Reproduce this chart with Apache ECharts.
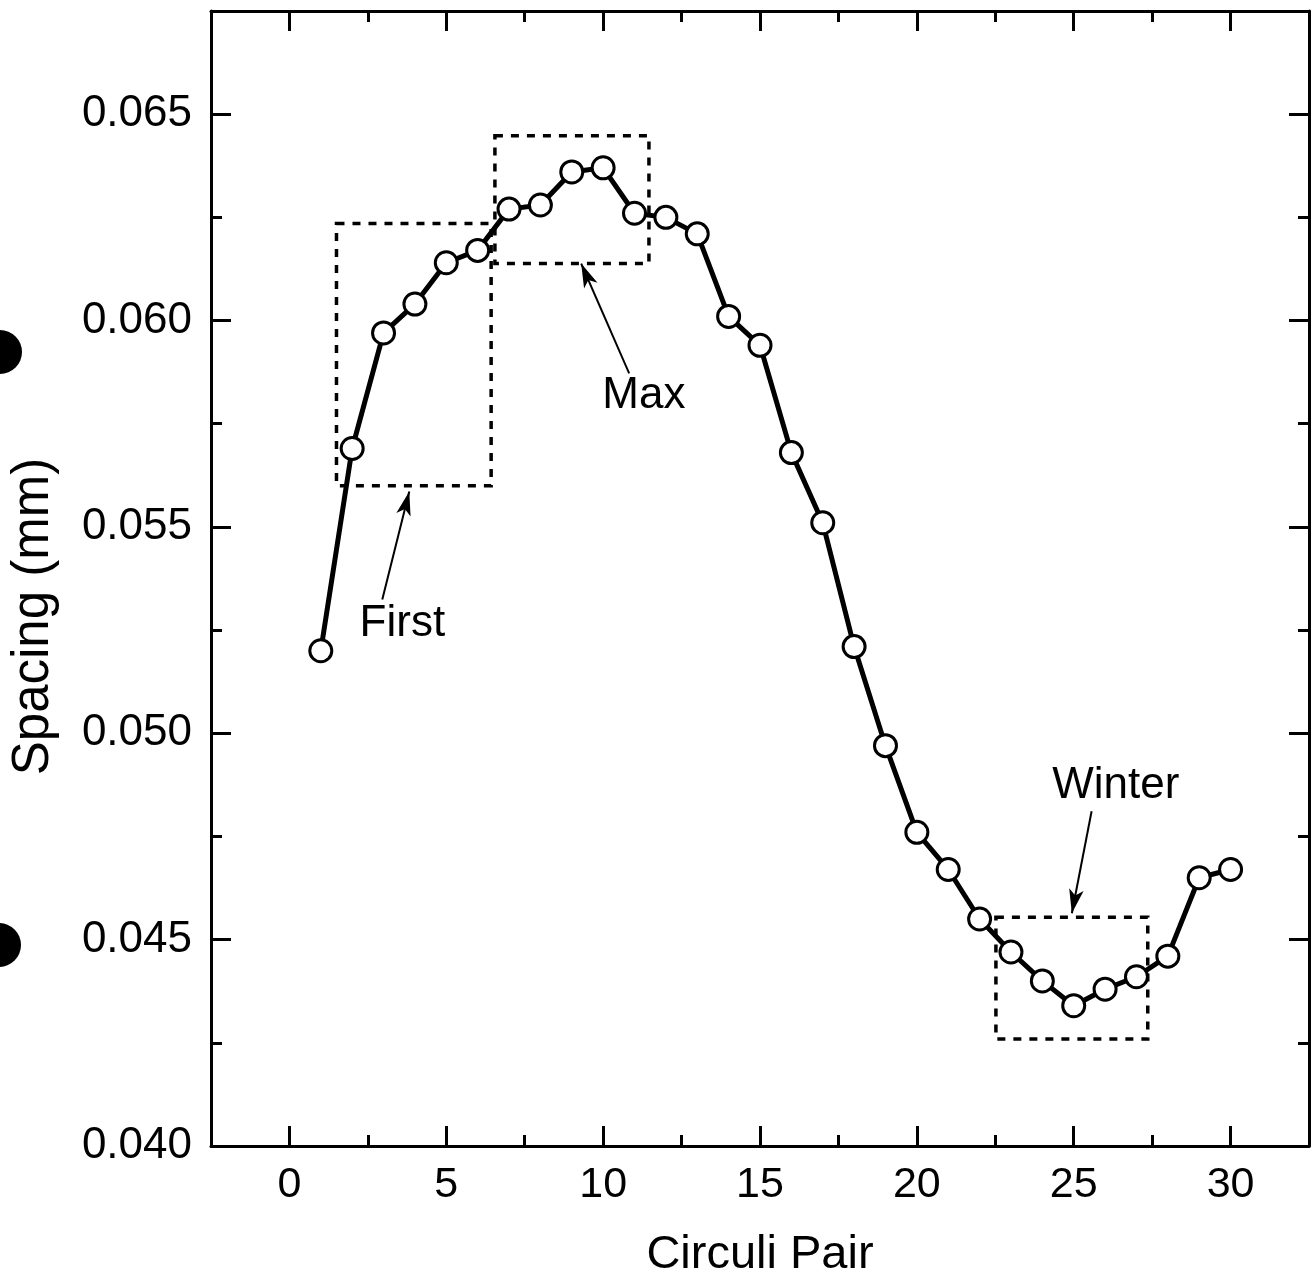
<!DOCTYPE html>
<html>
<head>
<meta charset="utf-8">
<script src="https://cdn.jsdelivr.net/npm/echarts@6/dist/echarts.min.js"></script>
<style>html,body{margin:0;padding:0;background:#fff;}#chart{width:1314px;height:1285px;}</style>
</head>
<body>
<div id="chart"></div>
<script>
// ---- data ----
const circuliPair = [1,2,3,4,5,6,7,8,9,10,11,12,13,14,15,16,17,18,19,20,21,22,23,24,25,26,27,28,29,30];
const spacing = [0.0520,0.0569,0.0597,0.0604,0.0614,0.0617,0.0627,0.0628,0.0636,0.0637,
                 0.0626,0.0625,0.0621,0.0601,0.0594,0.0568,0.0551,0.0521,0.0497,0.0476,
                 0.0467,0.0455,0.0447,0.0440,0.0434,0.0438,0.0441,0.0446,0.0465,0.0467];
const xMajorTicks = [0,5,10,15,20,25,30];
const xMinorTicks = [2.5,7.5,12.5,17.5,22.5,27.5];
const yMajorTicks = [0.040,0.045,0.050,0.055,0.060,0.065];
const yMinorTicks = [0.0425,0.0475,0.0525,0.0575,0.0625];
// dashed boxes: [xLeft, yTop, xRight, yBottom]
const boxFirst  = [1.50, 0.06235, 6.43, 0.05600];
const boxMax    = [6.55, 0.06448, 11.46, 0.06138];
const boxWinter = [22.52, 0.04554, 27.36, 0.04259];
// arrows: [xFrom, yFrom, xTo, yTo]
const arrowFirst  = [2.96, 0.05324, 3.82, 0.05586];
const arrowMax    = [10.83, 0.05872, 9.30, 0.06138];
const arrowWinter = [25.57, 0.04811, 24.94, 0.04564];
// annotation labels
const noteNames = ['First','Max','Winter'];
const noteX = [3.6, 11.3, 26.34];
const noteY = [0.05266, 0.05818, 0.04872];

const FONT = '"Liberation Sans", Arial, Helvetica, sans-serif';
const black = '#000';

function boxPair(b){ return [{coord:[b[0], b[1]]},{coord:[b[2], b[3]]}]; }
function arrowPair(a){ return [{coord:[a[0], a[1]]},{coord:[a[2], a[3]]}]; }

const xRange = {min:-2.5, max:32.5};
const yRange = {min:0.040, max:0.0675};

function xAxisDef(pos, ticks, len, withLine, withLabels){
  return Object.assign({
    type:'value', position:pos, gridIndex:0,
    axisLine:{show:withLine, onZero:false, lineStyle:{color:black, width:3}},
    axisTick:{show:true, inside:true, length:len, customValues:ticks, lineStyle:{color:black, width:3}},
    axisLabel:{show:withLabels, customValues:ticks, margin:18, fontSize:43, fontFamily:FONT, color:black,
               formatter:function(v){return String(v);}},
    splitLine:{show:false}, minorTick:{show:false}
  }, xRange);
}
function yAxisDef(pos, ticks, len, withLine, withLabels){
  return Object.assign({
    type:'value', position:pos, gridIndex:0,
    axisLine:{show:withLine, onZero:false, lineStyle:{color:black, width:3}},
    axisTick:{show:true, inside:true, length:len, customValues:ticks, lineStyle:{color:black, width:3}},
    axisLabel:{show:withLabels, customValues:ticks, margin:19, fontSize:44, fontFamily:FONT, color:black,
               formatter:function(v){return v.toFixed(3);}},
    splitLine:{show:false}, minorTick:{show:false}
  }, yRange);
}

const xAxes = [
  xAxisDef('bottom', xMajorTicks, 20, true, true),
  xAxisDef('bottom', xMinorTicks, 11, false, false),
  xAxisDef('top', xMajorTicks, 20, true, false),
  xAxisDef('top', xMinorTicks, 11, false, false)
];
xAxes[0].name = 'Circuli Pair';
xAxes[0].nameLocation = 'middle';
xAxes[0].nameGap = 86;
xAxes[0].nameTextStyle = {fontSize:47, fontFamily:FONT, color:black};

const yAxes = [
  yAxisDef('left', yMajorTicks, 20, true, true),
  yAxisDef('left', yMinorTicks, 11, false, false),
  yAxisDef('right', yMajorTicks, 20, true, false),
  yAxisDef('right', yMinorTicks, 11, false, false)
];
yAxes[0].name = 'Spacing (mm)';
yAxes[0].nameLocation = 'middle';
yAxes[0].nameGap = 152;
yAxes[0].nameTextStyle = {fontSize:51, fontFamily:FONT, color:black, padding:[0,76,0,0]};

const chart = echarts.init(document.getElementById('chart'), null, {renderer:'canvas'});
chart.setOption({
  animation:false,
  backgroundColor:'#fff',
  grid:{left:211, right:5, top:11, bottom:139, containLabel:false},
  xAxis:xAxes,
  yAxis:yAxes,
  graphic:[
    {type:'circle', shape:{cx:0, cy:352, r:22}, style:{fill:black}, z:100},
    {type:'circle', shape:{cx:-1, cy:945, r:22}, style:{fill:black}, z:100}
  ],
  series:[
    {
      name:'Spacing', type:'line', xAxisIndex:0, yAxisIndex:0,
      data: circuliPair.map((x,i)=>[x, spacing[i]]),
      symbol:'circle', symbolSize:22,
      itemStyle:{color:'#fff', borderColor:black, borderWidth:3},
      lineStyle:{color:black, width:5},
      z:5,
      markArea:{
        silent:true,
        itemStyle:{color:'rgba(0,0,0,0)', borderColor:black, borderWidth:3.5, borderType:[8,8]},
        label:{show:false},
        data:[boxPair(boxFirst), boxPair(boxMax), boxPair(boxWinter)]
      },
      markLine:{
        silent:true,
        symbol:['none','arrow'], symbolSize:[11,24],
        lineStyle:{color:black, width:2, type:'solid'},
        label:{show:false},
        data:[arrowPair(arrowFirst), arrowPair(arrowMax), arrowPair(arrowWinter)]
      }
    },
    {
      name:'Notes', type:'scatter', xAxisIndex:0, yAxisIndex:0,
      symbol:'circle', symbolSize:0, itemStyle:{color:black},
      data: noteNames.map((n,i)=>({name:n, value:[noteX[i], noteY[i]]})),
      label:{show:true, position:'inside', formatter:'{b}', fontSize:44, fontFamily:FONT,
             color:'#000', textBorderWidth:0, opacity:1},
      silent:true
    }
  ]
});
</script>
</body>
</html>
